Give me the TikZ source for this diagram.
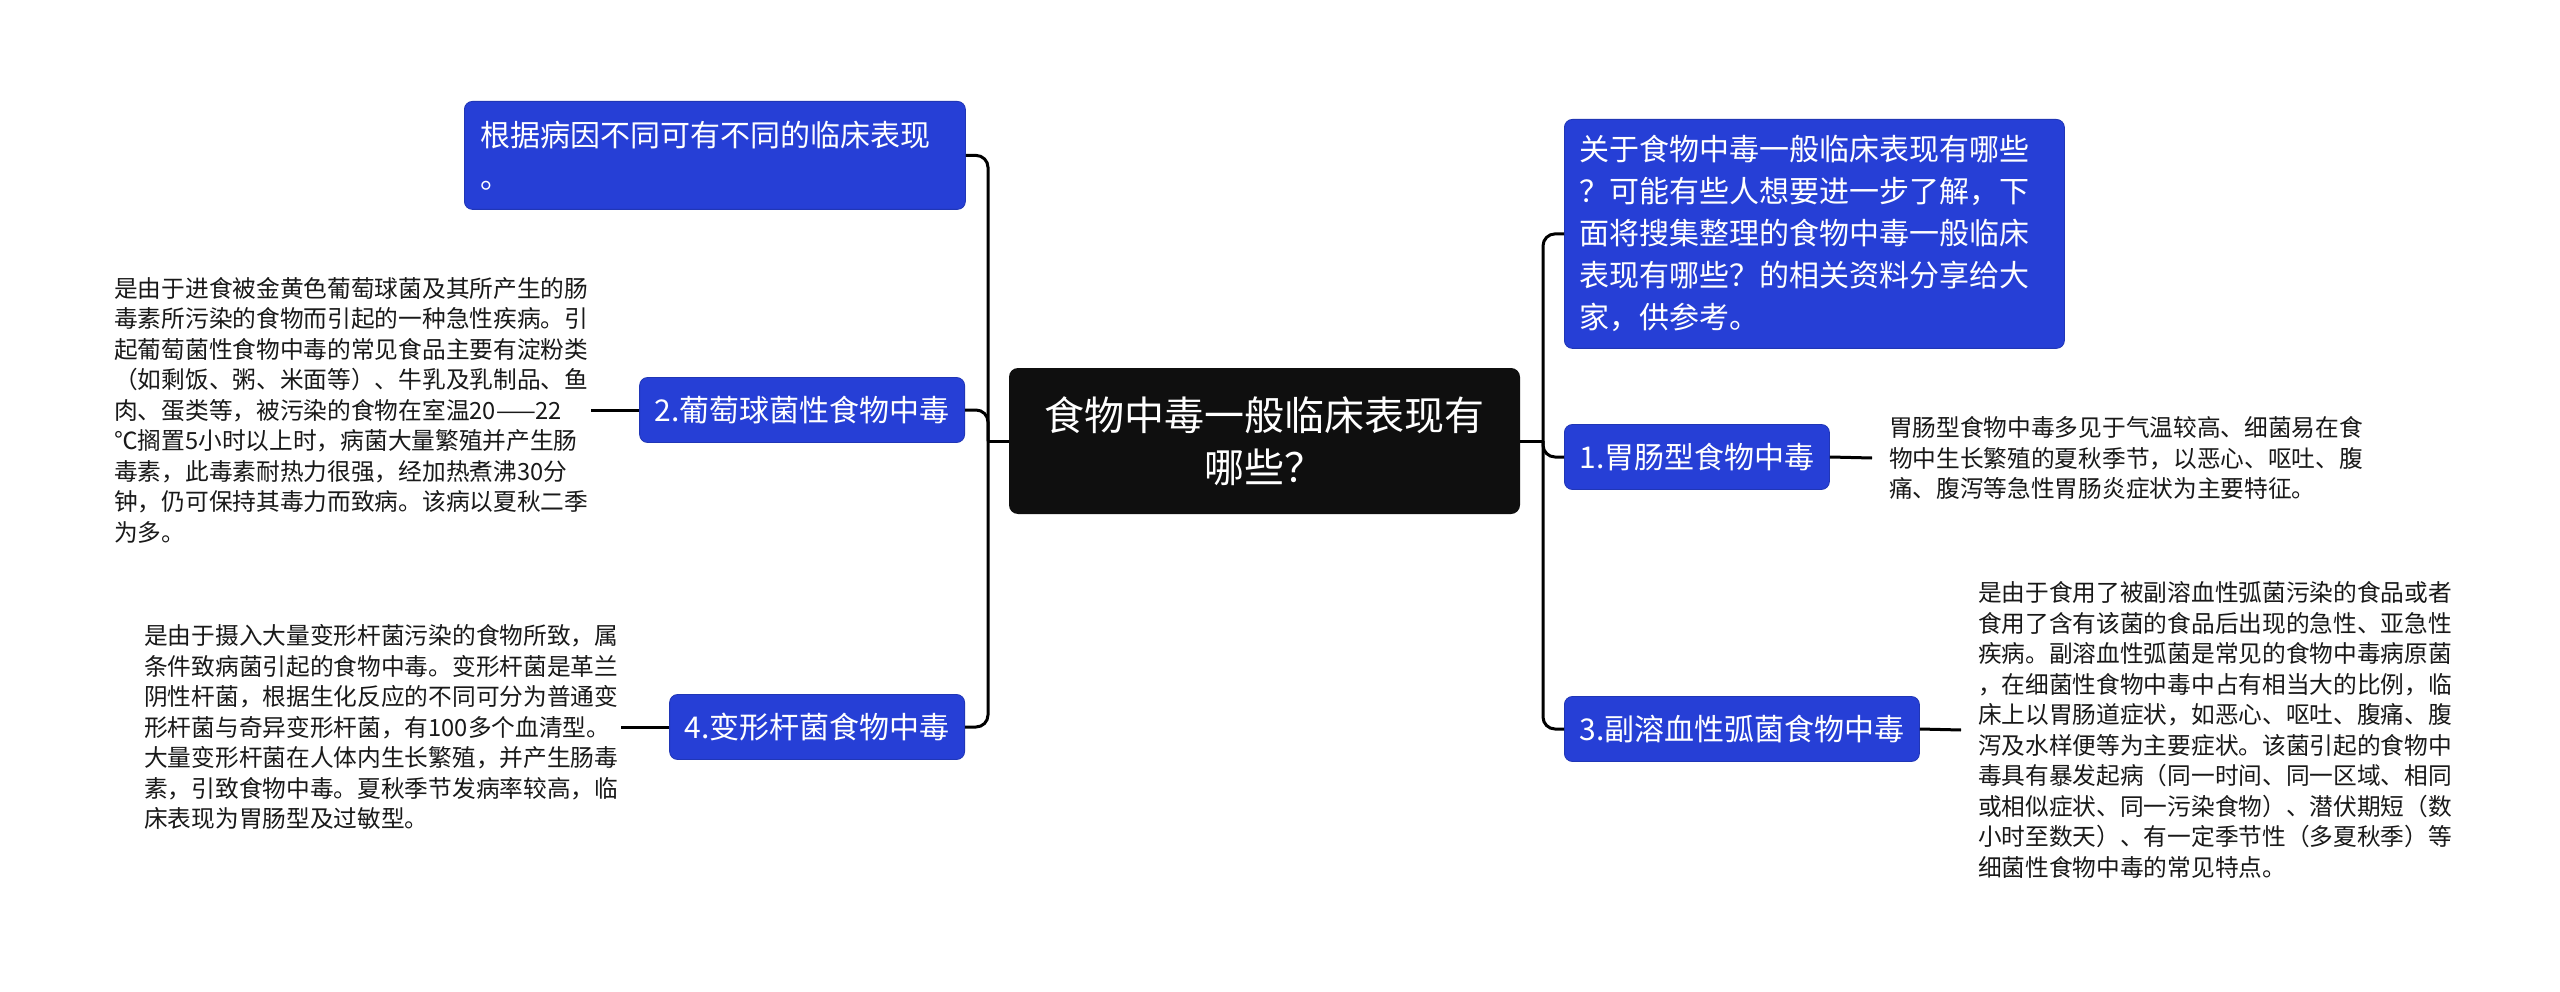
\documentclass[tikz,border=0pt]{standalone}
\usepackage{fontspec}
\setmainfont{Noto Sans CJK SC}
\definecolor{nodeblue}{RGB}{38,63,214}
\definecolor{rootblack}{RGB}{15,15,15}
\tikzset{
  conn/.style={line width=3pt, draw=black},
  bluebox/.style={fill=nodeblue, draw=nodeblue!85!black, line width=0.8pt, rounded corners=8pt, text=white, font=\fontsize{30}{42}\selectfont, inner xsep=15pt, inner ysep=0pt},
  branch/.style={bluebox, minimum height=65pt},
  rootbox/.style={fill=rootblack, rounded corners=9pt, text=white, font=\fontsize{40}{52}\selectfont, align=center, minimum width=511pt, minimum height=146pt},
  desc/.style={font=\fontsize{23.7}{30.5}\selectfont, align=left, inner xsep=3pt, inner ysep=0pt, text=black!90}
}
\begin{document}
\begin{tikzpicture}[x=1pt,y=-1pt]
\useasboundingbox (0,0) rectangle (2560,992);
\fill[white] (0,0) rectangle (2560,992);

% root
\node[rootbox] (c) at (1264.5,441) {食物中毒一般临床表现有\\哪些？};

% left side
\node[bluebox, anchor=north west, minimum width=501pt, minimum height=108pt, text width=469pt, align=left, inner xsep=16pt] (tl) at (464,101) {根据病因不同可有不同的临床表现\\。};
\node[branch, anchor=east] (b2) at (965,410) {2.葡萄球菌性食物中毒};
\node[branch, anchor=east] (b4) at (965,727) {4.变形杆菌食物中毒};

% right side
\node[bluebox, anchor=north west, minimum width=500pt, minimum height=229pt, text width=470pt, align=left] (tr) at (1564,119) {关于食物中毒一般临床表现有哪些\\？可能有些人想要进一步了解，下\\面将搜集整理的食物中毒一般临床\\表现有哪些？的相关资料分享给大\\家，供参考。};
\node[branch, anchor=west] (b1) at (1564,457) {1.胃肠型食物中毒};
\node[branch, anchor=west] (b3) at (1564,729) {3.副溶血性弧菌食物中毒};

% descriptions
\node[desc, anchor=west] (t2) at (111,410) {是由于进食被金黄色葡萄球菌及其所产生的肠\\毒素所污染的食物而引起的一种急性疾病。引\\起葡萄菌性食物中毒的常见食品主要有淀粉类\\（如剩饭、粥、米面等）、牛乳及乳制品、鱼\\肉、蛋类等，被污染的食物在室温20——22\\℃搁置5小时以上时，病菌大量繁殖并产生肠\\毒素，此毒素耐热力很强，经加热煮沸30分\\钟，仍可保持其毒力而致病。该病以夏秋二季\\为多。};
\node[desc, anchor=west] (t4) at (141,727) {是由于摄入大量变形杆菌污染的食物所致，属\\条件致病菌引起的食物中毒。变形杆菌是革兰\\阴性杆菌，根据生化反应的不同可分为普通变\\形杆菌与奇异变形杆菌，有100多个血清型。\\大量变形杆菌在人体内生长繁殖，并产生肠毒\\素，引致食物中毒。夏秋季节发病率较高，临\\床表现为胃肠型及过敏型。};
\node[desc, anchor=west, outer sep=14pt] (t1) at (1872,458) {胃肠型食物中毒多见于气温较高、细菌易在食\\物中生长繁殖的夏秋季节，以恶心、呕吐、腹\\痛、腹泻等急性胃肠炎症状为主要特征。};
\node[desc, anchor=west, outer sep=14pt] (t3) at (1961,730) {是由于食用了被副溶血性弧菌污染的食品或者\\食用了含有该菌的食品后出现的急性、亚急性\\疾病。副溶血性弧菌是常见的食物中毒病原菌\\，在细菌性食物中毒中占有相当大的比例，临\\床上以胃肠道症状，如恶心、呕吐、腹痛、腹\\泻及水样便等为主要症状。该菌引起的食物中\\毒具有暴发起病（同一时间、同一区域、相同\\或相似症状、同一污染食物）、潜伏期短（数\\小时至数天）、有一定季节性（多夏秋季）等\\细菌性食物中毒的常见特点。};

% junctions
\coordinate (L) at (988,441);
\coordinate (R) at (1543,441);

% connectors
\draw[conn] (c.west) -- (L);
\draw[conn, rounded corners=12pt] (tl.east) -| (L);
\draw[conn, rounded corners=12pt] (b2.east) -| (L);
\draw[conn, rounded corners=12pt] (b4.east) -| (L);
\draw[conn] (c.east) -- (R);
\draw[conn, rounded corners=12pt] (tr.west) -| (R);
\draw[conn, rounded corners=12pt] (b1.west) -| (R);
\draw[conn, rounded corners=12pt] (b3.west) -| (R);
\draw[conn] (b2.west) -- (t2.east);
\draw[conn] (b4.west) -- (t4.east);
\draw[conn] (b1.east) -- (t1.west);
\draw[conn] (b3.east) -- (t3.west);
\end{tikzpicture}
\end{document}
